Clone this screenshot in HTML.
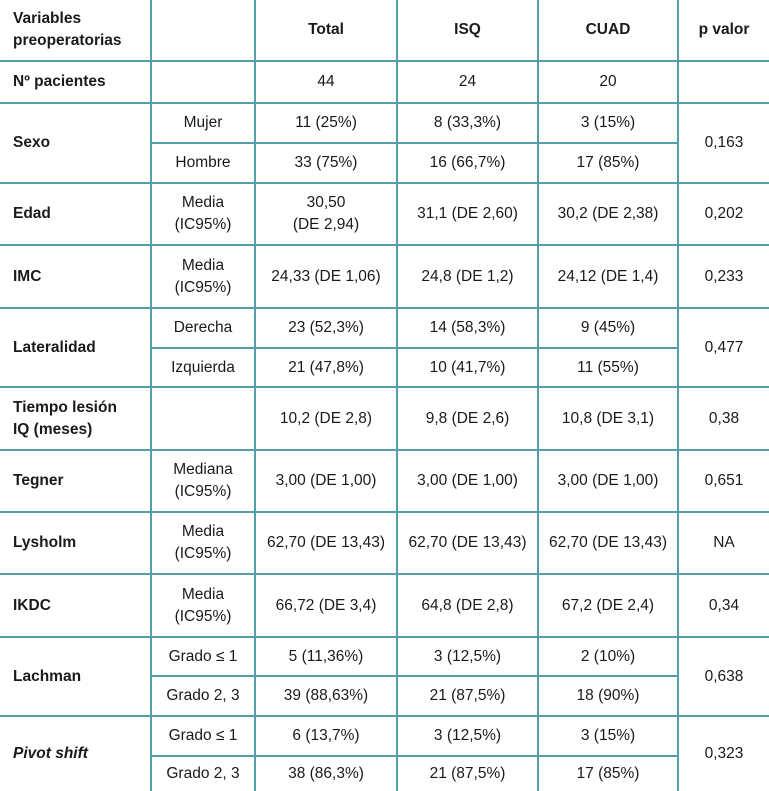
<!DOCTYPE html>
<html><head><meta charset="utf-8"><style>
html,body{margin:0;padding:0;background:#fff;width:769px;height:791px;overflow:hidden}
table{border-collapse:collapse;table-layout:fixed;width:769px;font-family:"Liberation Sans",sans-serif;font-size:15.5px;color:#1a1a1a}
td{border:2px solid #55a0a8;text-align:center;vertical-align:middle;padding:0;line-height:22px}
tr:first-child td{border-top:none}
td:first-child{border-left:none;text-align:left;padding-left:13px;font-weight:bold}
td:last-child{border-right:none}
tr:last-child td{border-bottom:none}
td.nb{border-bottom:none}
.h td{font-weight:bold}
.s{font-weight:normal!important;text-align:center!important;padding:0!important;border-left:2px solid #55a0a8!important}
</style></head><body>
<table>
<colgroup><col style="width:151px"><col style="width:104px"><col style="width:142px"><col style="width:141px"><col style="width:140px"><col style="width:91px"></colgroup>
<tr class="h" style="height:61px"><td>Variables<br>preoperatorias</td><td></td><td>Total</td><td>ISQ</td><td>CUAD</td><td>p valor</td></tr>
<tr style="height:42px"><td>Nº pacientes</td><td></td><td>44</td><td>24</td><td>20</td><td></td></tr>
<tr style="height:40px"><td rowspan="2">Sexo</td><td>Mujer</td><td>11 (25%)</td><td>8 (33,3%)</td><td>3 (15%)</td><td rowspan="2">0,163</td></tr>
<tr style="height:40px"><td class="s">Hombre</td><td>33 (75%)</td><td>16 (66,7%)</td><td>17 (85%)</td></tr>
<tr style="height:62px"><td>Edad</td><td>Media<br>(IC95%)</td><td>30,50<br>(DE 2,94)</td><td>31,1 (DE 2,60)</td><td>30,2 (DE 2,38)</td><td>0,202</td></tr>
<tr style="height:63px"><td>IMC</td><td>Media<br>(IC95%)</td><td>24,33 (DE 1,06)</td><td>24,8 (DE 1,2)</td><td>24,12 (DE 1,4)</td><td>0,233</td></tr>
<tr style="height:40px"><td rowspan="2">Lateralidad</td><td>Derecha</td><td>23 (52,3%)</td><td>14 (58,3%)</td><td>9 (45%)</td><td rowspan="2">0,477</td></tr>
<tr style="height:39px"><td class="s">Izquierda</td><td>21 (47,8%)</td><td>10 (41,7%)</td><td>11 (55%)</td></tr>
<tr style="height:63px"><td>Tiempo lesión<br>IQ (meses)</td><td></td><td>10,2 (DE 2,8)</td><td>9,8 (DE 2,6)</td><td>10,8 (DE 3,1)</td><td>0,38</td></tr>
<tr style="height:62px"><td>Tegner</td><td>Mediana<br>(IC95%)</td><td>3,00 (DE 1,00)</td><td>3,00 (DE 1,00)</td><td>3,00 (DE 1,00)</td><td>0,651</td></tr>
<tr style="height:62px"><td>Lysholm</td><td>Media<br>(IC95%)</td><td>62,70 (DE 13,43)</td><td>62,70 (DE 13,43)</td><td>62,70 (DE 13,43)</td><td>NA</td></tr>
<tr style="height:63px"><td>IKDC</td><td>Media<br>(IC95%)</td><td>66,72 (DE 3,4)</td><td>64,8 (DE 2,8)</td><td>67,2 (DE 2,4)</td><td>0,34</td></tr>
<tr style="height:39px"><td rowspan="2">Lachman</td><td>Grado ≤ 1</td><td>5 (11,36%)</td><td>3 (12,5%)</td><td>2 (10%)</td><td rowspan="2">0,638</td></tr>
<tr style="height:40px"><td class="s">Grado 2, 3</td><td>39 (88,63%)</td><td>21 (87,5%)</td><td>18 (90%)</td></tr>
<tr style="height:40px"><td rowspan="2" class="nb"><i>Pivot shift</i></td><td>Grado ≤ 1</td><td>6 (13,7%)</td><td>3 (12,5%)</td><td>3 (15%)</td><td rowspan="2" class="nb">0,323</td></tr>
<tr style="height:35px"><td class="s">Grado 2, 3</td><td>38 (86,3%)</td><td>21 (87,5%)</td><td>17 (85%)</td></tr>
</table>
</body></html>
